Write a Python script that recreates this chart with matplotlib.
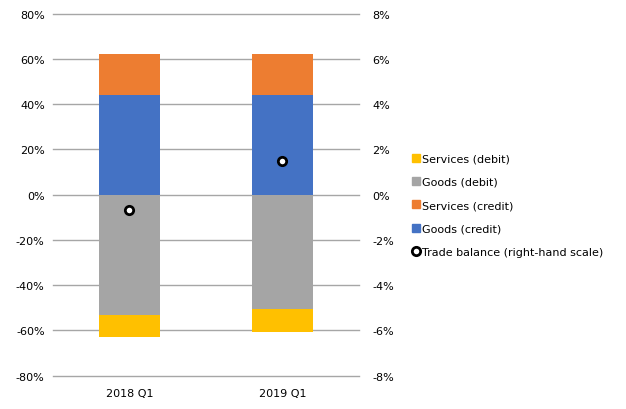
import matplotlib
matplotlib.use("Agg")
import matplotlib.pyplot as plt
from matplotlib.patches import Patch
from matplotlib.lines import Line2D
import numpy as np

categories = ["2018 Q1", "2019 Q1"]
goods_credit = [43.8, 43.8]
services_credit = [18.5, 18.5]
goods_debit = [-53.3, -50.8]
services_debit = [-9.8, -10.1]
trade_balance = [-0.68, 1.47]
left_ticks = [-80, -60, -40, -20, 0, 20, 40, 60, 80]
right_ticks = [-8, -6, -4, -2, 0, 2, 4, 6, 8]

c_gc = "#4472C4"
c_sc = "#ED7D31"
c_gd = "#A5A5A5"
c_sd = "#FFC000"

plt.rcParams['font.family'] = ['DejaVu Sans']
fig = plt.figure(figsize=(6.26, 4.10), dpi=100)
ax = fig.add_axes([0.0847, 0.0817, 0.4883, 0.8829])
x = np.arange(len(categories))
w = 0.4
ax.bar(x, goods_credit, w, color=c_gc, zorder=2)
ax.bar(x, services_credit, w, bottom=goods_credit, color=c_sc, zorder=2)
ax.bar(x, goods_debit, w, color=c_gd, zorder=2)
ax.bar(x, services_debit, w, bottom=goods_debit, color=c_sd, zorder=2)
ax.set_xlim(-0.5, 1.5)
ax.set_ylim(-80, 80)
ax.set_yticks(left_ticks)
ax.set_yticklabels([f"{t}%" for t in left_ticks])
ax.set_xticks(x)
ax.set_xticklabels(categories)
ax.grid(axis='y', color='#A6A6A6', linewidth=1, zorder=0)
for gl in ax.get_ygridlines():
    gl.set_clip_on(False)
ax.set_axisbelow(True)
for s in ax.spines.values():
    s.set_visible(False)
ax.tick_params(axis='y', length=0, labelsize=8, colors='#000000', pad=6)
ax.tick_params(axis='x', length=0, labelsize=8, colors='#000000', pad=9)

ax2 = ax.twinx()
ax2.set_ylim(-8, 8)
ax2.set_yticks(right_ticks)
ax2.set_yticklabels([f"{t}%" for t in right_ticks])
ax2.plot(x, trade_balance, linestyle='none', marker='o', markersize=6,
         markerfacecolor='white', markeredgecolor='black', markeredgewidth=2, zorder=5)
for s in ax2.spines.values():
    s.set_visible(False)
ax2.tick_params(length=0, labelsize=8, colors='#000000', pad=10)

handles = [
    Patch(color=c_sd, label="Services (debit)"),
    Patch(color=c_gd, label="Goods (debit)"),
    Patch(color=c_sc, label="Services (credit)"),
    Patch(color=c_gc, label="Goods (credit)"),
    Line2D([], [], linestyle='none', marker='o', markersize=6, markerfacecolor='white',
           markeredgecolor='black', markeredgewidth=2, label="Trade balance (right-hand scale)"),
]
fig.legend(handles=handles, loc='center left', bbox_to_anchor=(0.649, 0.497), frameon=False,
           fontsize=8, handlelength=0.7, handleheight=0.7, handletextpad=0.25,
           labelspacing=1.2, borderpad=0)
fig.savefig("out.png", dpi=100)
